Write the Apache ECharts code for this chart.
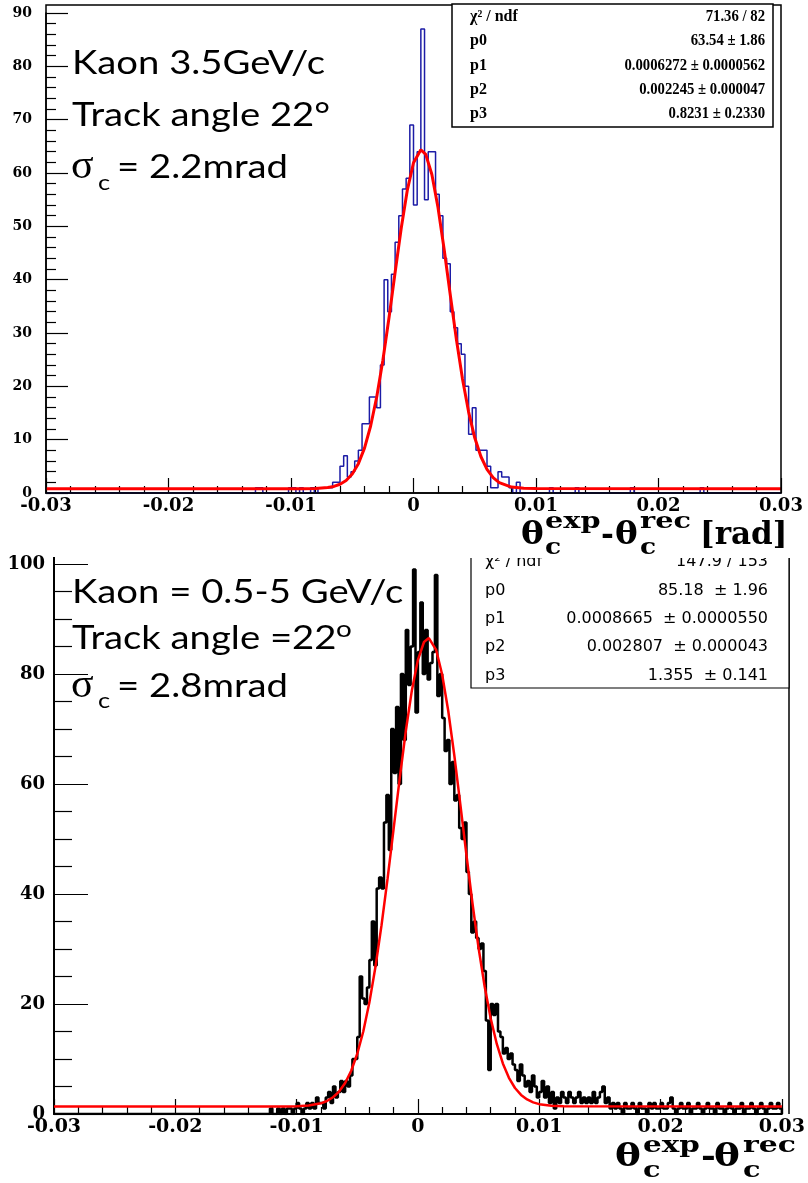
<!DOCTYPE html>
<html><head><meta charset="utf-8">
<script src="https://cdn.jsdelivr.net/npm/echarts@6/dist/echarts.min.js"></script>
<style>html,body{margin:0;padding:0;background:#fff}#c{width:808px;height:1183px}</style>
</head><body><div id="c"></div>
<script>
// ---------- data ----------
const xMin = -0.03, xMax = 0.03, xInterval = 0.01;

// top panel: Kaon 3.5 GeV/c, 200 bins of 0.0003, counts from bin 55
const topBinWidth = 0.0003;
const topStartBin = 55;
const topCounts = [
  0,0,1,1,0,0,0,0,0,0,
  0,1,1,0,1,0,0,1,0,1,
  1,1,1,2,2,5,7,3,4,6,
  8,13,13,18,18,16,24,40,34,41,
  47,52,57,59,69,54,64,87,55,64,
  64,56,52,44,43,34,31,28,26,20,
  11,16,8,8,8,5,1,1,4,3,
  3,1,0,2,0,0,0,0,0,0,
  0,0,1,0,0,0,0,0,0,1,
  0,0,0,0,0,0,0,0,0,0,
  0,0,0,0,1,0,0,0,0,0,
  0,0,0,0,0,0,0,0,0,0,
  0,0,0,1,0,0
];
const topFitX = [-0.03,-0.009,-0.008,-0.007,-0.0065,-0.006,-0.0055,-0.005,-0.0045,-0.004,-0.0035,-0.003,-0.0025,-0.002,-0.0015,-0.001,-0.0005,0,0.0006,0.001,0.0015,0.002,0.0025,0.003,0.0035,0.004,0.0045,0.005,0.0055,0.006,0.0065,0.007,0.008,0.009,0.01,0.03];
const topFitY = [0.82,0.82,0.86,1.02,1.23,1.64,2.35,3.57,5.5,8.41,12.56,18.05,24.9,32.86,41.38,49.68,56.84,61.93,64.36,63.49,59.73,53.52,45.69,37.17,28.83,21.38,15.17,10.35,6.84,4.44,2.89,1.95,1.11,0.88,0.83,0.82];
const topStats = [["\u03c7\u00b2 / ndf","71.36 / 82"],["p0","63.54 \u00b1 1.86"],["p1","0.0006272 \u00b1 0.0000562"],["p2","0.002245 \u00b1 0.000047"],["p3","0.8231 \u00b1 0.2330"]];

// bottom panel: Kaon 0.5-5 GeV/c, 300 bins of 0.0002, counts from bin 88
const botBinWidth = 0.0002;
const botStartBin = 88;
const botCounts = [
  0,1,0,0,1,0,1,0,1,1,0,1,
  2,1,0,1,2,1,2,1,3,2,
  2,1,3,4,2,5,3,4,6,4,
  6,5,7,10,10,14,25,21,20,23,
  28,35,27,41,43,41,53,58,48,70,
  62,74,60,80,68,88,78,85,99,73,
  84,93,80,88,79,82,84,98,76,80,
  72,66,68,60,64,57,58,52,50,53,
  44,40,33,35,32,30,31,26,17,8,
  20,18,20,15,14,11,12,10,11,9,
  8,6,9,7,5,6,4,7,5,3,
  4,6,3,5,2,4,1,3,2,4,
  3,2,4,3,2,3,4,2,3,2,
  3,2,4,2,3,4,5,2,3,1,
  2,1,2,1,0,2,1,1,2,1,
  0,2,1,1,0,2,1,2,1,1,
  2,1,1,2,3,1,0,1,2,1,
  1,2,0,1,1,2,1,0,1,2,
  1,1,0,2,1,1,0,1,2,1,
  0,1,1,2,0,1,1,2,1,0,
  1,2,1,0,1,2,1,1,2,1
];
const botFitX = [-0.03,-0.012,-0.011,-0.01,-0.009,-0.008,-0.0075,-0.007,-0.0065,-0.006,-0.0055,-0.005,-0.0045,-0.004,-0.0035,-0.003,-0.0025,-0.002,-0.0015,-0.001,-0.0005,0,0.0005,0.0009,0.0015,0.002,0.0025,0.003,0.0035,0.004,0.0045,0.005,0.0055,0.006,0.0065,0.007,0.0075,0.008,0.0085,0.009,0.0095,0.01,0.011,0.012,0.03];
const botFitY = [1.36,1.36,1.37,1.41,1.53,1.94,2.36,3.04,4.08,5.63,7.87,10.95,15.05,20.3,26.76,34.34,42.83,51.92,61.05,69.63,77.02,82.57,85.82,86.53,84.4,79.87,73.28,65.18,56.22,47.05,38.23,30.17,23.18,17.36,12.73,9.19,6.58,4.73,3.47,2.64,2.11,1.79,1.49,1.39,1.36];
const botStats = [["\u03c7\u00b2 / ndf","147.9 / 153"],["p0","85.18  \u00b1 1.96"],["p1","0.0008665  \u00b1 0.0000550"],["p2","0.002807  \u00b1 0.000043"],["p3","1.355  \u00b1 0.141"]];

const topYMax = 90, topYInterval = 10;
const botYMax = 100, botYInterval = 20;

// ---------- helpers ----------
function histPoints(counts, start, w) {
  const pts = [[xMin, 0]];
  counts.forEach((c, i) => pts.push([xMin + (start + i) * w, c]));
  pts.push([xMin + (start + counts.length) * w, 0]);
  pts.push([xMax, 0]);
  return pts;
}
function zip(a, b) { return a.map((v, i) => [v, b[i]]); }
const xFmt = v => { const r = Math.round(v * 100) / 100; return r === 0 ? '0' : String(r); };

function xAxisCfg(grid, fs, lw) {
  return {
    type: 'value', gridIndex: grid, min: xMin, max: xMax, interval: xInterval,
    axisLine: { show: true, onZero: false, lineStyle: { color: '#000', width: lw } },
    axisTick: { show: true, inside: true, length: 15, lineStyle: { color: '#000', width: 1.2 } },
    minorTick: { show: true, splitNumber: 5, length: 7, lineStyle: { color: '#000', width: 1.2 } },
    splitLine: { show: false }, minorSplitLine: { show: false },
    axisLabel: { formatter: xFmt, color: '#000', fontFamily: 'DejaVu Serif', fontWeight: 'bold', fontSize: fs, margin: 4 }
  };
}
function yAxisCfg(grid, max, interval, minorSplit, majLen, minLen, fs, margin, lw) {
  return {
    type: 'value', gridIndex: grid, min: 0, max: max, interval: interval,
    axisLine: { show: true, onZero: false, lineStyle: { color: '#000', width: lw } },
    axisTick: { show: true, inside: true, length: majLen, lineStyle: { color: '#000', width: 1.2 } },
    minorTick: { show: true, splitNumber: minorSplit, length: minLen, lineStyle: { color: '#000', width: 1.2 } },
    splitLine: { show: false }, minorSplitLine: { show: false },
    axisLabel: { color: '#000', fontFamily: 'DejaVu Serif', fontWeight: 'bold', fontSize: fs, margin: margin }
  };
}

// ---------- graphics (texts, boxes) ----------
const g = [];
function txt(text, x, y, font, opts, sx, z) {
  g.push({
    type: 'text', z: z || 20, x: x, y: y, scaleX: sx || 1, scaleY: 1,
    style: Object.assign({ text: text, x: 0, y: 0, font: font, fill: '#000', align: 'left', verticalAlign: 'middle' }, opts || {})
  });
}
// frames
g.push({ type: 'rect', z: 15, shape: { x: 46, y: 5, width: 735, height: 488 }, style: { fill: 'none', stroke: '#000', lineWidth: 1.5 } });
g.push({ type: 'line', z: 15, shape: { x1: 789, y1: 557, x2: 789, y2: 1114 }, style: { stroke: '#000', lineWidth: 1.5 } });
g.push({ type: 'line', z: 15, shape: { x1: 54, y1: 557, x2: 54, y2: 565 }, style: { stroke: '#000', lineWidth: 2 } });

// top stats box
g.push({ type: 'rect', z: 16, shape: { x: 452, y: 4, width: 321, height: 123 }, style: { fill: '#fff', stroke: '#000', lineWidth: 1.5 } });
const topRowY = [16.5, 40.5, 65.5, 89.5, 113.5];
topStats.forEach((r, i) => {
  txt(r[0], 470, topRowY[i], 'bold 16px "Liberation Serif"', null, 1);
  txt(r[1], 765, topRowY[i], 'bold 16px "Liberation Serif"', { align: 'right' }, 0.92);
});
// bottom stats box
g.push({ type: 'rect', z: 16, shape: { x: 471, y: 540, width: 318, height: 148 }, style: { fill: '#fff', stroke: '#000', lineWidth: 1.2 } });
const botRowY = [562, 590.5, 618.5, 647, 675.5];
botStats.forEach((r, i) => {
  txt(r[0], 485, botRowY[i], '16px "DejaVu Sans"');
  txt(r[1], 768, botRowY[i], '16px "DejaVu Sans"', { align: 'right' });
});
// white cover (image cut between panels)
g.push({ type: 'rect', z: 21, shape: { x: 440, y: 528, width: 368, height: 30 }, style: { fill: '#fff' } });

// top annotations
const annFont = '33px Lato', annSX = 1.16;
txt('Kaon 3.5GeV/c', 72, 63, annFont, null, annSX);
txt('Track angle 22\u00b0', 72, 115, annFont, null, annSX);
txt('\u03c3', 71, 167, '40px "Liberation Serif"', null, 1.05);
txt('c', 98, 183, '22px Lato', null, annSX);
txt('= 2.2mrad', 117, 167, annFont, null, annSX);
// bottom annotations
txt('Kaon = 0.5-5 GeV/c', 72, 592, annFont, null, annSX);
txt('Track angle =22', 72, 638, annFont, null, annSX);
txt('o', 336, 629, '24px Lato', null, annSX);
txt('\u03c3', 71, 686, '40px "Liberation Serif"', null, 1.05);
txt('c', 98, 701, '22px Lato', null, annSX);
txt('= 2.8mrad', 117, 686, annFont, null, annSX);

// axis titles: [text, x, y, size(big/small), scaleX]
const topTitle = [['\u03b8', 521, 536, 'b', 1.1], ['c', 545, 548, 's', 1.15], ['exp', 545, 522, 's', 1.25], ['-', 601, 536, 'b', 1], ['\u03b8', 615, 536, 'b', 1.1], ['c', 640, 548, 's', 1.15], ['rec', 640, 522, 's', 1.25], ['[rad]', 700, 536, 'b', 1]];
const botTitle = [['\u03b8', 615, 1158, 'b', 1.25], ['c', 643, 1171, 's', 1.25], ['exp', 643, 1146, 's', 1.28], ['-', 701, 1158, 'b', 1.15], ['\u03b8', 714, 1158, 'b', 1.25], ['c', 743, 1171, 's', 1.25], ['rec', 743, 1146, 's', 1.3]];
function drawTitle(parts) {
  parts.forEach(p => txt(p[0], p[1], p[2], p[3] === 'b' ? 'bold 31px "DejaVu Serif"' : 'bold 23px "DejaVu Serif"', null, p[4], 22));
}
drawTitle(topTitle);
drawTitle(botTitle);

const option = {
  animation: false,
  backgroundColor: '#fff',
  grid: [
    { left: 46, right: 27, top: 13, height: 480, containLabel: false },
    { left: 54, right: 19, top: 564, height: 550, containLabel: false }
  ],
  xAxis: [xAxisCfg(0, 18, 1.5), xAxisCfg(1, 19, 2)],
  yAxis: [
    yAxisCfg(0, topYMax, topYInterval, 5, 22, 10, 14, 14, 1.5),
    yAxisCfg(1, botYMax, botYInterval, 4, 34, 18, 18, 9, 2)
  ],
  series: [
    { type: 'line', xAxisIndex: 0, yAxisIndex: 0, step: 'end', symbol: 'none', data: histPoints(topCounts, topStartBin, topBinWidth),
      lineStyle: { color: '#1c1ca6', width: 1.5 }, z: 3 },
    { type: 'line', xAxisIndex: 0, yAxisIndex: 0, symbol: 'none', data: zip(topFitX, topFitY),
      lineStyle: { color: '#ff0000', width: 3 }, z: 4 },
    { type: 'line', xAxisIndex: 1, yAxisIndex: 1, step: 'end', symbol: 'none', data: histPoints(botCounts, botStartBin, botBinWidth),
      lineStyle: { color: '#000', width: 2.5 }, z: 3 },
    { type: 'line', xAxisIndex: 1, yAxisIndex: 1, symbol: 'none', data: zip(botFitX, botFitY),
      lineStyle: { color: '#ff0000', width: 2.5 }, z: 4 }
  ],
  graphic: g
};
const chart = echarts.init(document.getElementById('c'), null, { renderer: 'canvas' });
chart.setOption(option);
</script></body></html>
